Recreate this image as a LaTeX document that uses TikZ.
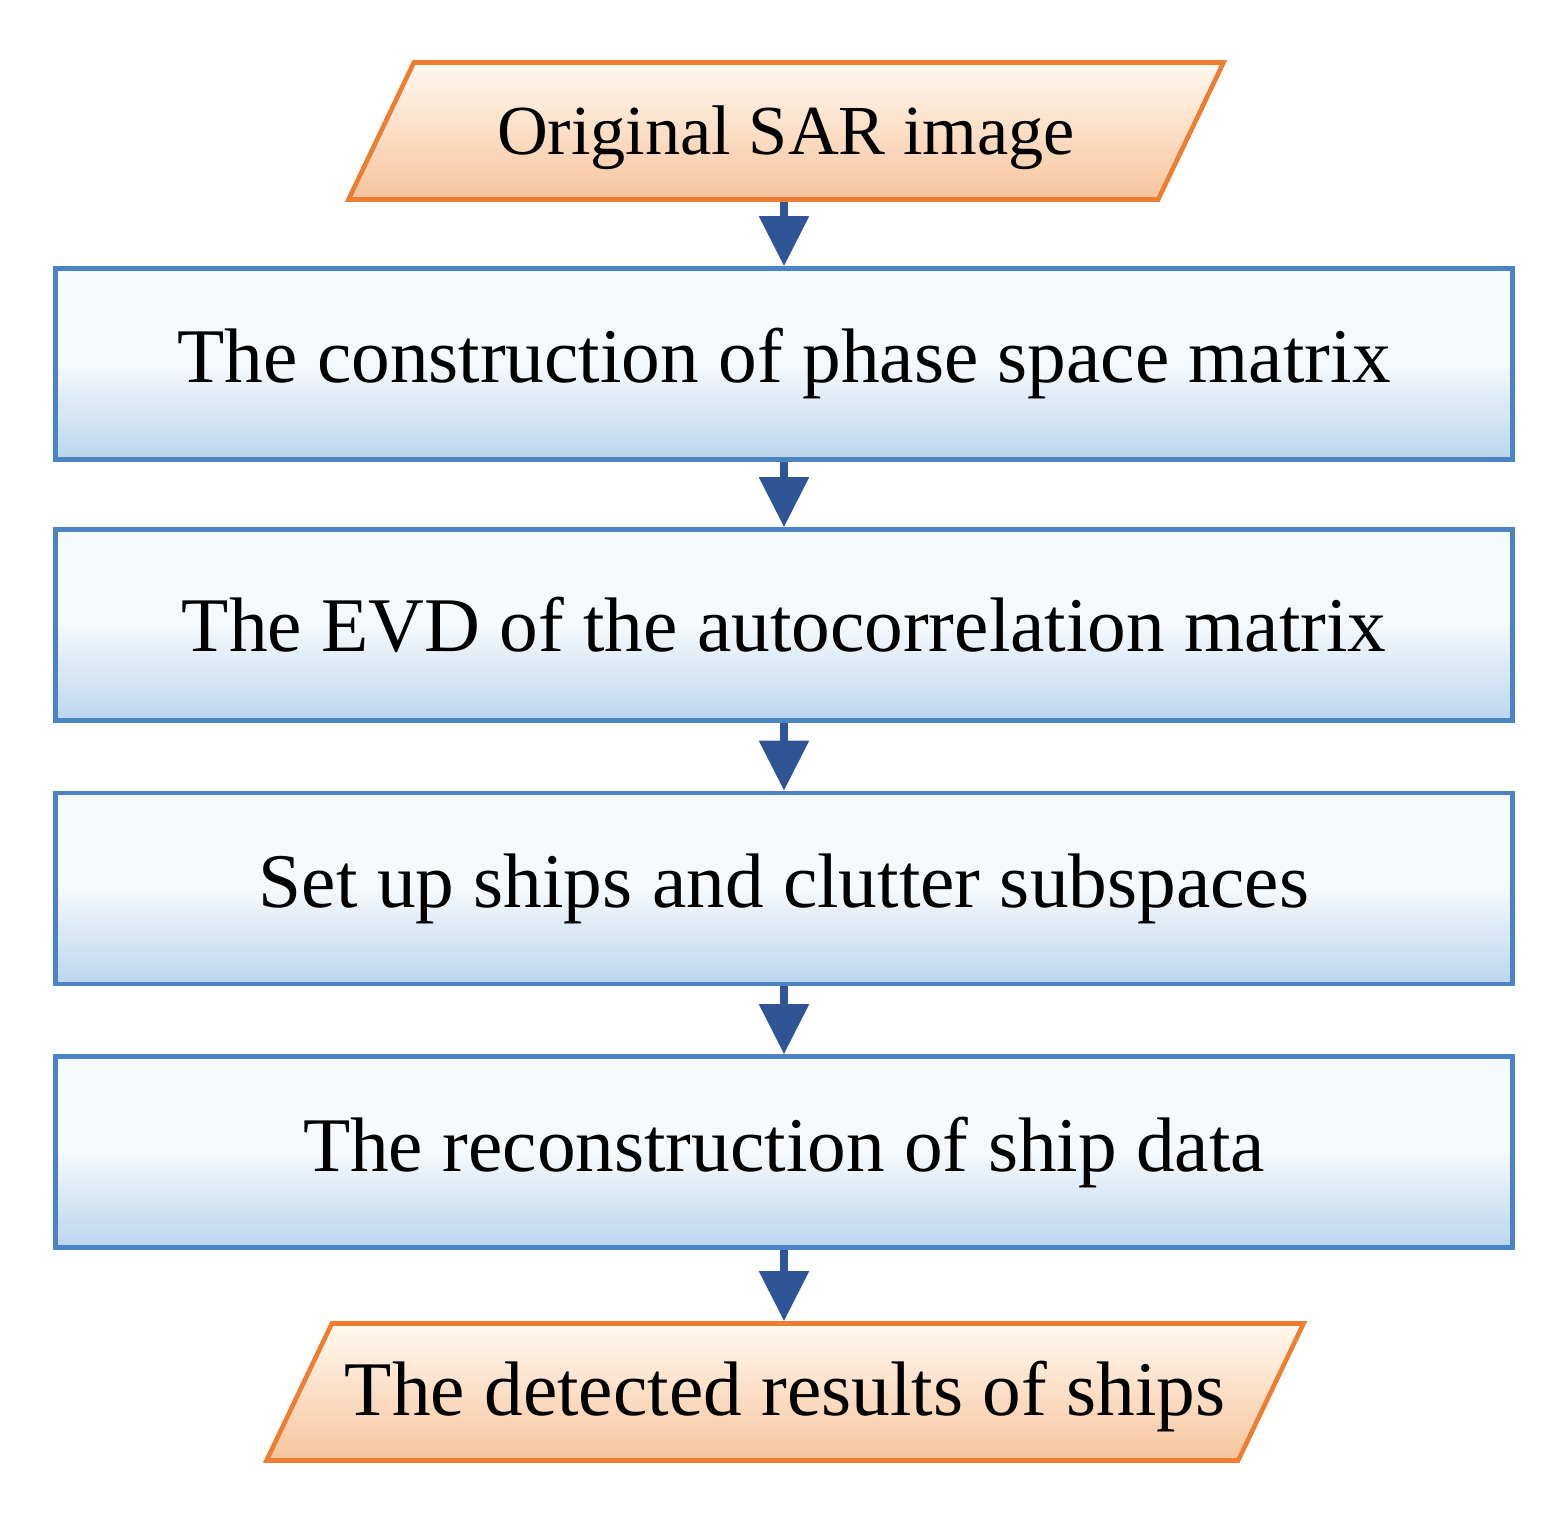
\documentclass[tikz,border=0pt]{standalone}
\usepackage{fontspec}
\setmainfont{Liberation Serif}
\usetikzlibrary{arrows.meta,shapes.geometric}

\definecolor{stepline}{HTML}{4A84C4}
\definecolor{steptop}{HTML}{F5F9FC}
\definecolor{stepbot}{HTML}{BAD5EE}
\definecolor{ioline}{HTML}{ED7D31}
\definecolor{iotop}{HTML}{FFF9EF}
\definecolor{iobot}{HTML}{F7C49D}
\definecolor{flowarrow}{HTML}{2F5597}

\begin{document}
\begin{tikzpicture}[>={Triangle[width=0.48cm,length=0.5cm]}, every node/.style={font=\fontsize{22}{26}\selectfont}]
        \useasboundingbox (0,0) rectangle (15.65,15.2);
        \tikzset{
            stepbox/.style={draw=stepline, line width=1.3pt, rectangle, minimum width=14.57cm, minimum height=1.91cm,
                top color=steptop, bottom color=stepbot, middle color=steptop, inner sep=0pt},
            iobox/.style={draw=ioline, line width=1.3pt, trapezium, trapezium left angle=64.5, trapezium right angle=115.5,
                trapezium stretches body, text height=0.92cm, text depth=0.45cm, inner xsep=0pt, inner ysep=0pt,
                top color=iotop, bottom color=iobot}
            ,flow/.style={->, flowarrow, line width=2.4pt}
        }
        % nodes
        \node[iobox, minimum width=8.75cm, font=\fontsize{20}{24}\selectfont] (sar) at (7.86,13.89) {Original SAR image};
        \node[stepbox] (phase) at (7.84,11.56) {The construction of phase space matrix};
        \node[stepbox] (evd) at (7.84,8.95) {The EVD of the autocorrelation matrix};
        \node[stepbox] (sub) at (7.84,6.315) {Set up ships and clutter subspaces};
        \node[stepbox] (rec) at (7.84,3.68) {The reconstruction of ship data};
        \node[iobox, minimum width=10.37cm] (res) at (7.85,1.28) {The detected results of ships};

        % arrows between steps
        \draw[flow] (sar.south -| phase.north) -- (phase.north);
        \draw[flow] (phase) -- (evd);
        \draw[flow] (evd) -- (sub);
        \draw[flow] (sub) -- (rec);
        \draw[flow] (rec.south) -- (rec.south |- res.north);
    \end{tikzpicture}
\end{document}
